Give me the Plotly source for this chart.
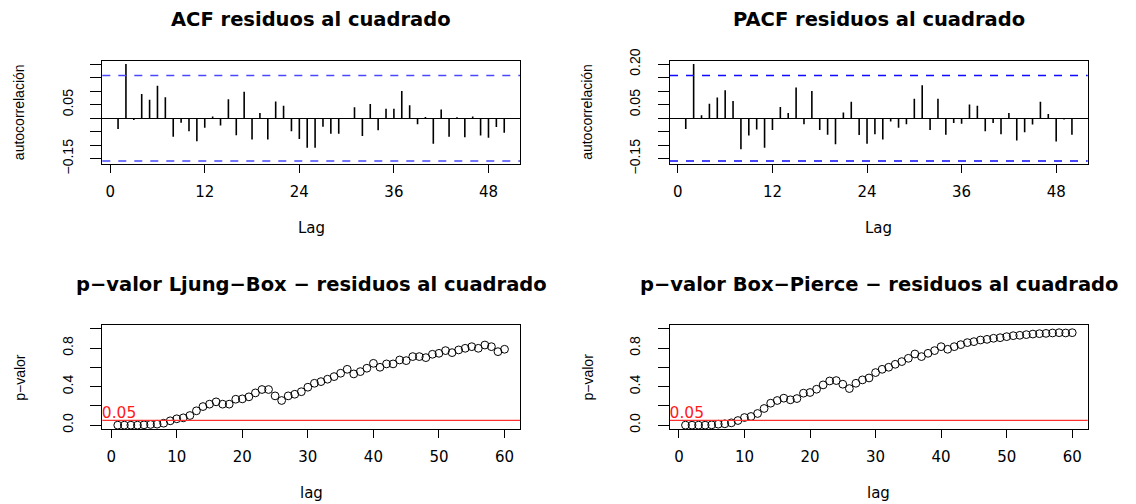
import plotly.graph_objects as go

W, H = 1136, 504

# ---------------- data ----------------
lags_acf = list(range(1, 51))
acf_vals = [-0.040, 0.201, -0.006, 0.090, 0.069, 0.120, 0.078, -0.068, -0.016, -0.048,
            -0.085, -0.035, 0.007, -0.027, 0.070, -0.063, 0.098, -0.078, 0.020, -0.078,
            0.062, 0.046, -0.048, -0.077, -0.109, -0.109, -0.031, -0.057, -0.057, -0.002,
            0.041, -0.065, 0.053, -0.044, 0.035, 0.035, 0.101, 0.048, -0.022, 0.005,
            -0.094, 0.033, -0.068, 0.004, -0.070, 0.007, -0.064, -0.072, -0.032, -0.053]
pacf_vals = [-0.040, 0.201, 0.011, 0.054, 0.077, 0.104, 0.064, -0.114, -0.064, -0.041,
             -0.109, -0.043, 0.042, 0.020, 0.114, -0.022, 0.101, -0.043, -0.061, -0.096,
             0.021, 0.061, -0.062, -0.094, -0.059, -0.078, -0.012, -0.035, -0.022, 0.072,
             0.122, -0.043, 0.072, -0.061, -0.017, -0.020, 0.051, 0.046, -0.048, -0.017,
             -0.059, 0.020, -0.082, -0.052, -0.023, 0.061, 0.016, -0.086, -0.004, -0.061]
conf_limit = 0.158

lags_test = list(range(1, 61))
lb_pvals = [0.000, 0.000, 0.000, 0.000, 0.003, 0.007, 0.010, 0.020, 0.045, 0.066,
            0.076, 0.100, 0.149, 0.193, 0.218, 0.242, 0.218, 0.218, 0.269, 0.273,
            0.294, 0.335, 0.370, 0.370, 0.304, 0.256, 0.304, 0.321, 0.347, 0.394,
            0.435, 0.452, 0.477, 0.504, 0.539, 0.580, 0.532, 0.556, 0.591, 0.642,
            0.601, 0.636, 0.636, 0.677, 0.670, 0.712, 0.712, 0.701, 0.736, 0.746,
            0.774, 0.753, 0.781, 0.798, 0.815, 0.798, 0.832, 0.815, 0.763, 0.788]
bp_pvals = [0.000, 0.000, 0.000, 0.000, 0.003, 0.010, 0.014, 0.024, 0.048, 0.079,
            0.090, 0.121, 0.173, 0.228, 0.256, 0.280, 0.263, 0.276, 0.332, 0.339,
            0.373, 0.418, 0.459, 0.463, 0.425, 0.380, 0.435, 0.470, 0.490, 0.546,
            0.580, 0.601, 0.632, 0.660, 0.694, 0.739, 0.712, 0.746, 0.774, 0.815,
            0.788, 0.815, 0.836, 0.857, 0.867, 0.884, 0.891, 0.902, 0.908, 0.919,
            0.929, 0.933, 0.940, 0.946, 0.950, 0.953, 0.957, 0.960, 0.957, 0.960]
alpha = 0.05

titles = ["ACF residuos al cuadrado", "PACF residuos al cuadrado",
          "p−valor Ljung−Box − residuos al cuadrado", "p−valor Box−Pierce − residuos al cuadrado"]
xlabels = ["Lag", "Lag", "lag", "lag"]
ylabels = ["autocorrelación", "autocorrelación", "p−valor", "p−valor"]

acf_ticks = [-0.15, -0.10, -0.05, 0.0, 0.05, 0.10, 0.15, 0.20]
acf_ticktext = ["−0.15", "", "", "", "0.05", "", "", ""]
pacf_ticktext = ["−0.15", "", "", "", "0.05", "", "", "0.20"]
p_ticks = [0.0, 0.2, 0.4, 0.6, 0.8, 1.0]
p_ticktext = ["0.0", "", "0.4", "", "0.8", ""]
lag_ticks_top = [0, 12, 24, 36, 48]
lag_ticks_bot = [0, 10, 20, 30, 40, 50, 60]

# ---------------- layout geometry (pixels) ----------------
LX = (102.3, 520.0)
RX = (670.0, 1087.7)
TY = (60.7, 164.0)
BY = (325.0, 429.0)


def xd(a, b):
    return [a / W, b / W]


def yd(top, bot):
    return [1 - bot / H, 1 - top / H]


def stems(lags, vals):
    xs, ys = [], []
    for k, v in zip(lags, vals):
        xs += [k, k, None]
        ys += [0, v, None]
    return xs, ys


fig = go.Figure()

sx, sy = stems(lags_acf, acf_vals)
fig.add_trace(go.Scatter(x=sx, y=sy, mode="lines", line=dict(color="black", width=1.6),
                         xaxis="x", yaxis="y", showlegend=False))
sx, sy = stems(lags_acf, pacf_vals)
fig.add_trace(go.Scatter(x=sx, y=sy, mode="lines", line=dict(color="black", width=1.6),
                         xaxis="x2", yaxis="y2", showlegend=False))
fig.add_trace(go.Scatter(x=lags_test, y=lb_pvals, mode="markers",
                         marker=dict(symbol="circle-open", size=7.8, color="black", line=dict(width=1)),
                         xaxis="x3", yaxis="y3", showlegend=False))
fig.add_trace(go.Scatter(x=lags_test, y=bp_pvals, mode="markers",
                         marker=dict(symbol="circle-open", size=7.8, color="black", line=dict(width=1)),
                         xaxis="x4", yaxis="y4", showlegend=False))

# red "0.05" labels (clipped by the plot area like in R)
for xa, ya in (("x3", "y3"), ("x4", "y4")):
    fig.add_trace(go.Scatter(x=[1.2], y=[alpha - 0.02], mode="text", text=[f"{alpha:.2f}"],
                             textposition="top center",
                             textfont=dict(family="DejaVu Sans", size=15.5, color="#ff1a1a"),
                             cliponaxis=True, xaxis=xa, yaxis=ya, showlegend=False, hoverinfo="skip"))

shapes = []
for xr, yr, col in (("x", "y", "#4848ff"), ("x2", "y2", "#0a0aff")):
    for c in (conf_limit, -conf_limit):
        shapes.append(dict(type="line", xref=f"{xr} domain", yref=yr, x0=0, x1=1, y0=c, y1=c,
                           line=dict(color=col, width=1.4, dash="8px,8px")))
for xr, yr in (("x3", "y3"), ("x4", "y4")):
    shapes.append(dict(type="line", xref=f"{xr} domain", yref=yr, x0=0, x1=1, y0=alpha, y1=alpha,
                       line=dict(color="#ff3030", width=1.2)))

xcommon = dict(showline=True, mirror=True, linecolor="black", linewidth=1, ticks="outside",
               ticklen=8, tickcolor="black", tickwidth=1, showgrid=False, zeroline=False,
               automargin=False,
               tickfont=dict(family="DejaVu Sans", size=15, color="black"), ticklabelstandoff=6)
ycommon = dict(showline=True, mirror=True, linecolor="black", linewidth=1, ticks="outside",
               ticklen=11, tickcolor="black", tickwidth=1, showgrid=False, automargin=False,
               tickangle=-90, tickfont=dict(family="Liberation Sans", size=14, color="black"),
               ticklabelstandoff=12)

fig.update_layout(
    width=W, height=H, margin=dict(l=0, r=0, t=0, b=0, pad=0, autoexpand=False),
    paper_bgcolor="white", plot_bgcolor="white", showlegend=False,
    xaxis=dict(domain=xd(*LX), range=[-1.0, 52.0], tickvals=lag_ticks_top, anchor="y", **xcommon),
    yaxis=dict(domain=yd(*TY), range=[-0.169, 0.213], tickvals=acf_ticks, ticktext=acf_ticktext,
               anchor="x", zeroline=True, zerolinecolor="black", zerolinewidth=1, **ycommon),
    xaxis2=dict(domain=xd(*RX), range=[-1.0, 52.0], tickvals=lag_ticks_top, anchor="y2", **xcommon),
    yaxis2=dict(domain=yd(*TY), range=[-0.169, 0.213], tickvals=acf_ticks, ticktext=pacf_ticktext,
                anchor="x2", zeroline=True, zerolinecolor="black", zerolinewidth=1, **ycommon),
    xaxis3=dict(domain=xd(*LX), range=[-1.36, 62.36], tickvals=lag_ticks_bot, anchor="y3", **xcommon),
    yaxis3=dict(domain=yd(*BY), range=[-0.04, 1.04], tickvals=p_ticks, ticktext=p_ticktext,
                anchor="x3", zeroline=False, **ycommon),
    xaxis4=dict(domain=xd(*RX), range=[-1.36, 62.36], tickvals=lag_ticks_bot, anchor="y4", **xcommon),
    yaxis4=dict(domain=yd(*BY), range=[-0.04, 1.04], tickvals=p_ticks, ticktext=p_ticktext,
                anchor="x4", zeroline=False, **ycommon),
    shapes=shapes,
)

annotations = []
panels = [(LX, TY), (RX, TY), (LX, BY), (RX, BY)]
for i, ((x0, x1), (y0, y1)) in enumerate(panels):
    cx = (x0 + x1) / 2
    cy = (y0 + y1) / 2
    annotations.append(dict(text=titles[i], x=cx / W, y=1 - (y0 - 41) / H, xref="paper", yref="paper",
                            xanchor="center", yanchor="middle", showarrow=False,
                            font=dict(family="DejaVu Sans", size=19.5, color="black", weight="bold")))
    annotations.append(dict(text=xlabels[i], x=cx / W, y=1 - (y1 + 64) / H, xref="paper", yref="paper",
                            xanchor="center", yanchor="middle", showarrow=False,
                            font=dict(family="DejaVu Sans", size=15, color="black")))
    annotations.append(dict(text=ylabels[i], x=(x0 - 82.5) / W, y=1 - cy / H, xref="paper", yref="paper",
                            xanchor="center", yanchor="middle", showarrow=False, textangle=-90,
                            font=dict(family="Liberation Sans", size=14, color="black")))
fig.update_layout(annotations=annotations)

fig.write_html("out.html")
